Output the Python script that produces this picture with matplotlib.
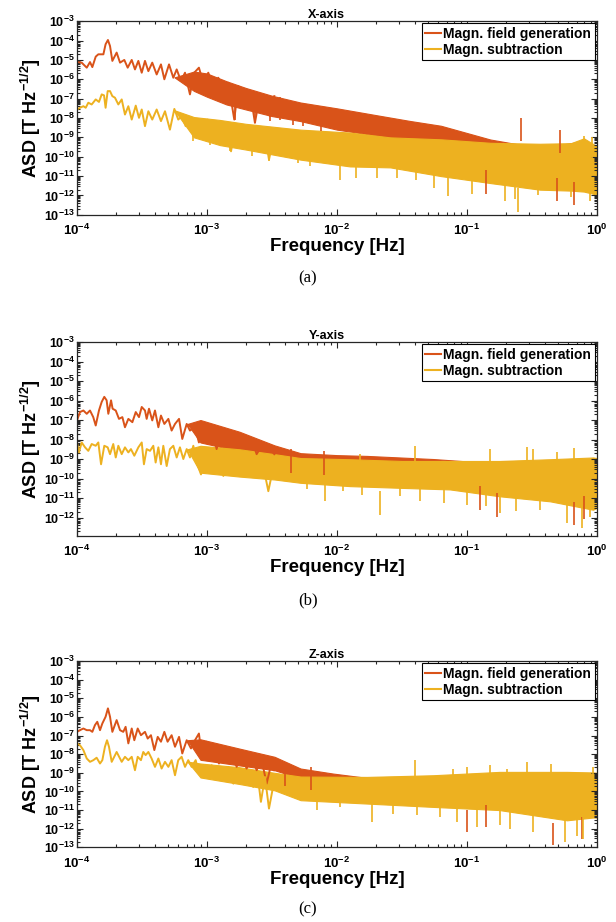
import matplotlib
matplotlib.use('Agg')
import matplotlib.pyplot as plt
import numpy as np
from matplotlib.ticker import LogLocator, FuncFormatter, NullFormatter
from matplotlib.lines import Line2D

plt.rcParams['font.family'] = ['Liberation Sans', 'DejaVu Sans']
plt.rcParams['mathtext.fontset'] = 'custom'
plt.rcParams['mathtext.rm'] = 'Liberation Sans:bold'
plt.rcParams['mathtext.bf'] = 'Liberation Sans:bold'
plt.rcParams['mathtext.it'] = 'Liberation Sans:bold:italic'

GEN_COLOR = '#D95319'
SUB_COLOR = '#EDB120'

labels = ['Magn. field generation', 'Magn. subtraction']
titles = ['X-axis', 'Y-axis', 'Z-axis']
captions = ['(a)', '(b)', '(c)']

# all values are log10: (log10 frequency [Hz], log10 ASD [T/sqrt(Hz)])
# ---------------- X axis: resolved low-frequency part
x_gen = [(-4.0, -5.11), (-3.964, -5.14), (-3.925, -5.40), (-3.9, -5.11), (-3.882, -5.37),
         (-3.856, -4.83), (-3.836, -4.71), (-3.797, -4.71), (-3.78, -4.19), (-3.762, -3.97),
         (-3.746, -4.28), (-3.728, -5.05), (-3.695, -4.62), (-3.669, -5.14), (-3.636, -5.0),
         (-3.61, -5.40), (-3.579, -5.0), (-3.554, -5.49), (-3.528, -5.05), (-3.502, -5.66),
         (-3.477, -5.05), (-3.451, -5.58), (-3.421, -5.14), (-3.387, -5.75), (-3.354, -5.23),
         (-3.328, -6.0), (-3.292, -5.23), (-3.259, -5.92), (-3.233, -5.49), (-3.2, -6.09),
         (-3.169, -5.66), (-3.131, -6.78), (-3.098, -5.66), (-3.062, -5.40), (-3.028, -6.18),
         (-2.99, -5.66), (-2.951, -6.35), (-2.913, -5.92), (-2.874, -6.52), (-2.836, -6.18),
         (-2.79, -8.08), (-2.759, -6.35), (-2.708, -6.87), (-2.669, -6.61), (-2.631, -8.25),
         (-2.592, -6.78), (-2.554, -7.39), (-2.515, -7.91), (-2.482, -6.87)]
x_sub = [(-4.0, -7.56), (-3.977, -7.47), (-3.951, -7.39), (-3.933, -7.47), (-3.913, -7.21),
         (-3.887, -7.30), (-3.856, -7.04), (-3.831, -7.17), (-3.81, -6.78), (-3.792, -6.83),
         (-3.78, -7.47), (-3.764, -6.61), (-3.746, -6.61), (-3.728, -6.87), (-3.708, -6.95),
         (-3.682, -7.30), (-3.656, -7.04), (-3.631, -7.82), (-3.605, -7.39), (-3.579, -8.08),
         (-3.548, -7.36), (-3.523, -7.99), (-3.502, -7.56), (-3.477, -8.42), (-3.451, -7.65),
         (-3.421, -8.08), (-3.387, -7.56), (-3.354, -8.16), (-3.323, -7.65), (-3.285, -8.6),
         (-3.251, -7.53), (-3.221, -8.08), (-3.195, -7.91), (-3.164, -8.42), (-3.131, -8.08),
         (-3.105, -8.94), (-3.067, -8.16), (-3.028, -8.85), (-2.995, -8.08), (-2.964, -8.94),
         (-2.926, -8.42), (-2.887, -9.11), (-2.849, -8.25), (-2.815, -9.72), (-2.785, -8.6),
         (-2.746, -9.11), (-2.708, -8.42), (-2.669, -9.46), (-2.631, -8.68), (-2.592, -9.28),
         (-2.559, -8.6), (-2.523, -10.15), (-2.482, -8.85)]

# ---------------- Y axis
y_gen = [(-4.0, -7.02), (-3.977, -6.59), (-3.951, -6.51), (-3.925, -6.68), (-3.9, -6.51),
         (-3.875, -6.85), (-3.856, -7.28), (-3.831, -6.51), (-3.81, -6.07), (-3.79, -5.81),
         (-3.772, -5.99), (-3.759, -6.68), (-3.738, -5.99), (-3.726, -6.42), (-3.702, -6.51),
         (-3.677, -6.94), (-3.651, -6.85), (-3.631, -7.37), (-3.605, -6.94), (-3.574, -7.11),
         (-3.548, -6.59), (-3.523, -6.85), (-3.502, -6.33), (-3.477, -6.51), (-3.464, -6.94),
         (-3.446, -6.42), (-3.421, -7.02), (-3.4, -6.51), (-3.374, -7.37), (-3.354, -6.77),
         (-3.328, -7.2), (-3.297, -6.94), (-3.272, -7.54), (-3.246, -7.2), (-3.215, -6.94),
         (-3.19, -7.97), (-3.156, -7.2), (-3.131, -7.54), (-3.092, -7.37), (-3.062, -8.15),
         (-3.028, -7.2), (-2.995, -7.97), (-2.964, -7.37), (-2.926, -8.49), (-2.887, -7.54),
         (-2.849, -7.97), (-2.81, -7.71), (-2.772, -8.32), (-2.733, -7.8), (-2.695, -8.49),
         (-2.656, -7.97), (-2.618, -8.75), (-2.579, -8.32), (-2.541, -8.49), (-2.502, -8.58),
         (-2.482, -8.75)]
y_sub = [(-4.0, -8.15), (-3.985, -8.66), (-3.964, -8.15), (-3.938, -8.40), (-3.913, -8.58),
         (-3.887, -8.23), (-3.856, -8.32), (-3.836, -8.15), (-3.815, -9.27), (-3.79, -8.32),
         (-3.764, -8.40), (-3.746, -8.75), (-3.721, -8.23), (-3.702, -8.92), (-3.682, -8.32),
         (-3.656, -8.75), (-3.631, -8.40), (-3.605, -8.66), (-3.585, -8.49), (-3.559, -8.83),
         (-3.528, -8.40), (-3.502, -8.15), (-3.485, -9.27), (-3.464, -8.49), (-3.438, -8.58),
         (-3.413, -8.32), (-3.395, -9.18), (-3.374, -8.40), (-3.354, -9.27), (-3.336, -8.32),
         (-3.31, -9.36), (-3.285, -8.49), (-3.259, -8.32), (-3.233, -8.92), (-3.208, -8.40),
         (-3.182, -9.0), (-3.156, -8.49), (-3.131, -8.92), (-3.105, -8.32), (-3.079, -9.18),
         (-3.046, -9.79), (-3.015, -8.83), (-2.99, -9.36), (-2.959, -8.75), (-2.926, -9.27),
         (-2.887, -8.92), (-2.874, -9.87), (-2.836, -8.75), (-2.797, -9.36), (-2.759, -8.92),
         (-2.721, -9.7), (-2.682, -8.83), (-2.644, -9.62), (-2.605, -9.0), (-2.567, -9.36),
         (-2.528, -10.65), (-2.482, -9.18)]

# ---------------- Z axis
z_gen = [(-4.0, -6.8), (-3.977, -6.71), (-3.951, -6.62), (-3.925, -6.71), (-3.9, -6.71),
         (-3.882, -6.8), (-3.862, -6.44), (-3.844, -6.26), (-3.823, -6.71), (-3.805, -6.35),
         (-3.78, -5.99), (-3.762, -5.54), (-3.746, -5.99), (-3.728, -6.8), (-3.695, -6.17),
         (-3.669, -6.71), (-3.644, -6.8), (-3.626, -6.53), (-3.605, -7.42), (-3.579, -6.62),
         (-3.559, -7.25), (-3.533, -6.62), (-3.508, -6.98), (-3.477, -6.8), (-3.456, -7.16),
         (-3.431, -6.98), (-3.405, -7.78), (-3.379, -7.07), (-3.354, -7.33), (-3.328, -6.8),
         (-3.303, -7.33), (-3.272, -6.98), (-3.246, -7.6), (-3.215, -7.07), (-3.19, -7.96),
         (-3.156, -7.25), (-3.123, -7.69), (-3.092, -7.25), (-3.062, -6.89), (-3.036, -8.32),
         (-3.003, -7.33), (-2.969, -8.05), (-2.938, -7.51), (-2.908, -8.5), (-2.874, -7.69),
         (-2.841, -8.32), (-2.81, -7.78), (-2.772, -8.68), (-2.733, -8.05), (-2.695, -8.77),
         (-2.656, -8.14), (-2.618, -8.86), (-2.579, -8.32), (-2.541, -9.58), (-2.502, -8.41),
         (-2.482, -8.86)]
z_sub = [(-4.0, -7.42), (-3.977, -7.52), (-3.951, -7.78), (-3.925, -8.23), (-3.9, -8.41),
         (-3.874, -8.32), (-3.849, -8.19), (-3.823, -8.5), (-3.805, -8.32), (-3.785, -7.6),
         (-3.769, -7.25), (-3.754, -7.6), (-3.733, -8.41), (-3.695, -7.88), (-3.656, -8.41),
         (-3.631, -8.14), (-3.605, -8.32), (-3.579, -8.14), (-3.554, -8.86), (-3.533, -8.14),
         (-3.508, -8.32), (-3.49, -7.88), (-3.472, -8.05), (-3.451, -7.88), (-3.426, -8.23),
         (-3.4, -8.68), (-3.374, -8.23), (-3.349, -8.77), (-3.323, -8.41), (-3.297, -8.68),
         (-3.272, -8.32), (-3.246, -9.13), (-3.221, -8.32), (-3.195, -8.14), (-3.169, -8.68),
         (-3.144, -8.32), (-3.118, -8.68), (-3.087, -8.32), (-3.062, -9.04), (-3.028, -8.59),
         (-2.995, -9.22), (-2.964, -8.59), (-2.933, -9.13), (-2.9, -8.77), (-2.867, -9.4),
         (-2.836, -8.68), (-2.797, -9.58), (-2.759, -8.86), (-2.721, -9.49), (-2.682, -8.95),
         (-2.644, -9.76), (-2.61, -9.13), (-2.585, -10.56), (-2.554, -9.22), (-2.523, -10.92),
         (-2.482, -9.4)]

# dense (unresolved) part: (log10 f, upper edge, lower edge) of the noise band
x_gen_band = [(-3.25, -5.9, -5.9), (-3.1, -5.6, -6.6), (-3.0, -5.7, -6.9), (-2.85, -6.1, -7.3),
              (-2.7, -6.45, -7.56), (-2.5, -6.85, -7.9), (-2.28, -7.2, -8.16), (-2.0, -7.5, -8.6),
              (-1.7, -7.85, -8.9), (-1.44, -8.15, -9.2), (-1.2, -8.4, -9.6), (-0.82, -9.11, -10.2),
              (-0.59, -9.38, -10.6), (-0.3, -9.4, -10.9), (-0.1, -9.2, -11.0), (0.0, -9.52, -11.3)]
x_sub_band = [(-3.25, -7.6, -7.6), (-3.1, -7.95, -9.0), (-2.9, -8.1, -9.4), (-2.7, -8.3, -9.63),
              (-2.28, -8.6, -10.15), (-1.9, -8.75, -10.5), (-1.59, -9.0, -10.55), (-1.2, -9.1, -11.0),
              (-0.82, -9.28, -11.36), (-0.44, -9.33, -11.7), (-0.2, -9.3, -11.75), (-0.1, -9.05, -11.8),
              (0.0, -9.46, -11.96)]

y_gen_band = [(-3.15, -7.2, -7.2), (-3.05, -7.0, -8.15), (-2.75, -7.6, -8.6), (-2.48, -8.3, -9.0),
              (-2.28, -8.7, -9.3), (-2.0, -8.8, -9.6), (-1.77, -8.84, -9.8), (-1.26, -9.0, -10.0),
              (-1.0, -9.12, -10.2), (-0.5, -9.12, -10.6), (0.0, -9.0, -11.0)]
y_sub_band = [(-3.15, -8.5, -8.5), (-3.05, -8.32, -9.7), (-2.75, -8.5, -9.9), (-2.48, -8.75, -10.05),
              (-2.28, -8.95, -10.22), (-1.9, -9.01, -10.39), (-1.5, -9.1, -10.48), (-1.13, -9.1, -10.56),
              (-0.75, -9.1, -10.91), (-0.36, -9.01, -11.17), (-0.03, -8.92, -11.6), (0.0, -8.95, -11.5)]

z_gen_band = [(-3.15, -7.25, -7.25), (-3.05, -7.2, -8.3), (-2.75, -7.7, -8.6), (-2.48, -8.14, -8.86),
              (-2.28, -8.77, -9.3), (-2.03, -9.04, -9.8), (-1.77, -9.27, -10.2), (-1.0, -9.15, -10.5),
              (0.0, -9.05, -11.0)]
z_sub_band = [(-3.15, -8.4, -8.4), (-3.05, -8.5, -9.25), (-2.75, -8.7, -9.6), (-2.48, -9.0, -9.94),
              (-2.28, -9.2, -10.47), (-1.77, -9.22, -10.65), (-1.26, -9.13, -10.83), (-0.75, -8.95, -11.0),
              (-0.23, -8.95, -11.55), (-0.03, -8.98, -11.4), (0.0, -9.0, -11.4)]

# isolated spikes sticking out of the noise band: (log10 f, log10 ASD at the tip)
x_gen_up = [(-0.587, -7.99), (-0.285, -8.6)]
x_gen_dn = [(-2.785, -8.08), (-2.63, -8.25), (-2.515, -8.16), (-2.44, -8.1), (-2.34, -8.35),
            (-2.26, -8.4), (-2.12, -8.68), (-0.85, -11.9), (-0.31, -12.3), (-0.18, -12.5)]
x_sub_up = [(-0.1, -8.94), (-0.04, -9.0)]
x_sub_dn = [(-3.105, -9.2), (-2.98, -9.37), (-2.82, -9.72), (-2.656, -9.98), (-2.523, -10.24),
            (-2.297, -10.32), (-2.208, -10.5), (-1.977, -11.19), (-1.85, -11.1), (-1.695, -11.1),
            (-1.54, -11.1), (-1.39, -11.2), (-1.25, -11.6), (-1.144, -12.05), (-0.964, -11.9),
            (-0.708, -12.3), (-0.63, -12.2), (-0.605, -12.83), (-0.45, -12.0), (-0.2, -12.1),
            (-0.05, -12.3)]

y_gen_up = [(-2.35, -8.5), (-2.1, -8.6)]
y_gen_dn = [(-0.9, -11.6), (-0.77, -11.95), (-0.18, -12.4), (-0.1, -12.1)]
y_sub_up = [(-1.82, -8.75), (-1.4, -8.32), (-0.823, -8.49), (-0.54, -8.36), (-0.49, -8.5),
            (-0.31, -8.66), (-0.18, -8.41)]
y_sub_dn = [(-2.233, -10.56), (-2.09, -11.17), (-1.95, -10.65), (-1.81, -10.82), (-1.67, -11.86),
            (-1.515, -10.91), (-1.36, -11.17), (-1.18, -11.25), (-1.0, -11.34), (-0.85, -11.43),
            (-0.746, -11.77), (-0.62, -11.69), (-0.44, -11.6), (-0.233, -12.29), (-0.118, -12.55),
            (-0.054, -11.95)]

z_gen_up = [(-2.4, -8.5), (-2.2, -8.7)]
z_gen_dn = [(-1.0, -12.18), (-0.85, -11.91), (-0.336, -12.9), (-0.118, -12.58)]
z_sub_up = [(-1.4, -8.29), (-1.105, -8.77), (-1.0, -8.68), (-0.823, -8.59), (-0.695, -8.77),
            (-0.54, -8.41), (-0.35, -8.5), (-0.028, -8.68)]
z_sub_dn = [(-2.156, -11.0), (-1.977, -10.83), (-1.733, -11.64), (-1.567, -11.19), (-1.387, -11.28),
            (-1.208, -11.37), (-1.079, -11.64), (-0.925, -11.91), (-0.746, -11.82), (-0.669, -12.0),
            (-0.49, -12.18), (-0.246, -12.71), (-0.156, -12.4), (-0.105, -12.58)]

panels = [
    (x_gen, x_sub, x_gen_band, x_sub_band, x_gen_up, x_gen_dn, x_sub_up, x_sub_dn),
    (y_gen, y_sub, y_gen_band, y_sub_band, y_gen_up, y_gen_dn, y_sub_up, y_sub_dn),
    (z_gen, z_sub, z_gen_band, z_sub_band, z_gen_up, z_gen_dn, z_sub_up, z_sub_dn),
]

# axes boxes in figure coords (left, bottom, width, height)
boxes = [(0.125, 0.767, 0.844, 0.210),
         (0.125, 0.419, 0.844, 0.210),
         (0.125, 0.081, 0.844, 0.202)]
ylows = [1e-13, 1.17e-13, 1e-13]
cap_y = [0.698, 0.349, 0.014]

AX_COL = '#262626'


def pow10(v, pos):
    return r'$\mathbf{10^{%d}}$' % int(round(np.log10(v)))


def draw_series(ax, trace, band, up, dn, color):
    t = np.array(trace).T
    ax.plot(10 ** t[0], 10 ** t[1], color=color, lw=1.4)
    b = np.array(band).T
    ax.fill_between(10 ** b[0], 10 ** b[2], 10 ** b[1], color=color, lw=0.8, edgecolor=color)
    for f, v in up:
        ax.vlines(10 ** f, 10 ** (v - 1.2), 10 ** v, color=color, lw=1.2)
    for f, v in dn:
        ax.vlines(10 ** f, 10 ** v, 10 ** (v + 1.2), color=color, lw=1.2)


fig = plt.figure(figsize=(6.16, 9.22), dpi=100)

for i, p in enumerate(panels):
    gen, sub, gband, sband, gup, gdn, sup, sdn = p
    ax = fig.add_axes(boxes[i])
    ax.set_xscale('log')
    ax.set_yscale('log')
    draw_series(ax, gen, gband, gup, gdn, GEN_COLOR)
    draw_series(ax, sub, sband, sup, sdn, SUB_COLOR)
    ax.set_xlim(1e-4, 1)
    ax.set_ylim(ylows[i], 1e-3)

    ax.xaxis.set_major_locator(LogLocator(base=10, numticks=10))
    ax.xaxis.set_minor_locator(LogLocator(base=10, subs=np.arange(2, 10), numticks=10))
    ax.yaxis.set_major_locator(LogLocator(base=10, numticks=20))
    ax.yaxis.set_minor_locator(LogLocator(base=10, subs=np.arange(2, 10), numticks=20))
    ax.xaxis.set_major_formatter(FuncFormatter(pow10))
    ax.yaxis.set_major_formatter(FuncFormatter(pow10))
    ax.xaxis.set_minor_formatter(NullFormatter())
    ax.yaxis.set_minor_formatter(NullFormatter())
    ax.tick_params(which='both', direction='in', top=True, right=True, color=AX_COL, width=0.8)
    ax.tick_params(which='major', length=4)
    ax.tick_params(which='minor', length=2.2)
    ax.tick_params(axis='x', labelsize=9.5, pad=6)
    ax.tick_params(axis='y', labelsize=9, pad=1.5)
    for s in ax.spines.values():
        s.set_color(AX_COL)
        s.set_linewidth(0.9)

    ax.set_title(titles[i], fontsize=9, fontweight='bold', x=0.48, pad=1.5)
    ax.set_xlabel('Frequency [Hz]', fontsize=13.5, fontweight='bold', labelpad=0)
    ax.set_ylabel(r'ASD [T Hz$^{\mathbf{-1/2}}$]', fontsize=13, fontweight='bold', labelpad=1)

    handles = [Line2D([0], [0], color=GEN_COLOR, lw=1.5),
               Line2D([0], [0], color=SUB_COLOR, lw=1.5)]
    leg = ax.legend(handles, labels, loc='upper right', prop={'weight': 'bold', 'size': 10},
                    fancybox=False, framealpha=1, edgecolor='black', borderaxespad=0.15,
                    handlelength=1.1, handletextpad=0.2, borderpad=0.25, labelspacing=0.15)
    leg.get_frame().set_linewidth(0.8)

    fig.text(0.5, cap_y[i], captions[i], ha='center', va='center', fontsize=12,
             family='Liberation Serif')

fig.savefig('out.png', dpi=100)
